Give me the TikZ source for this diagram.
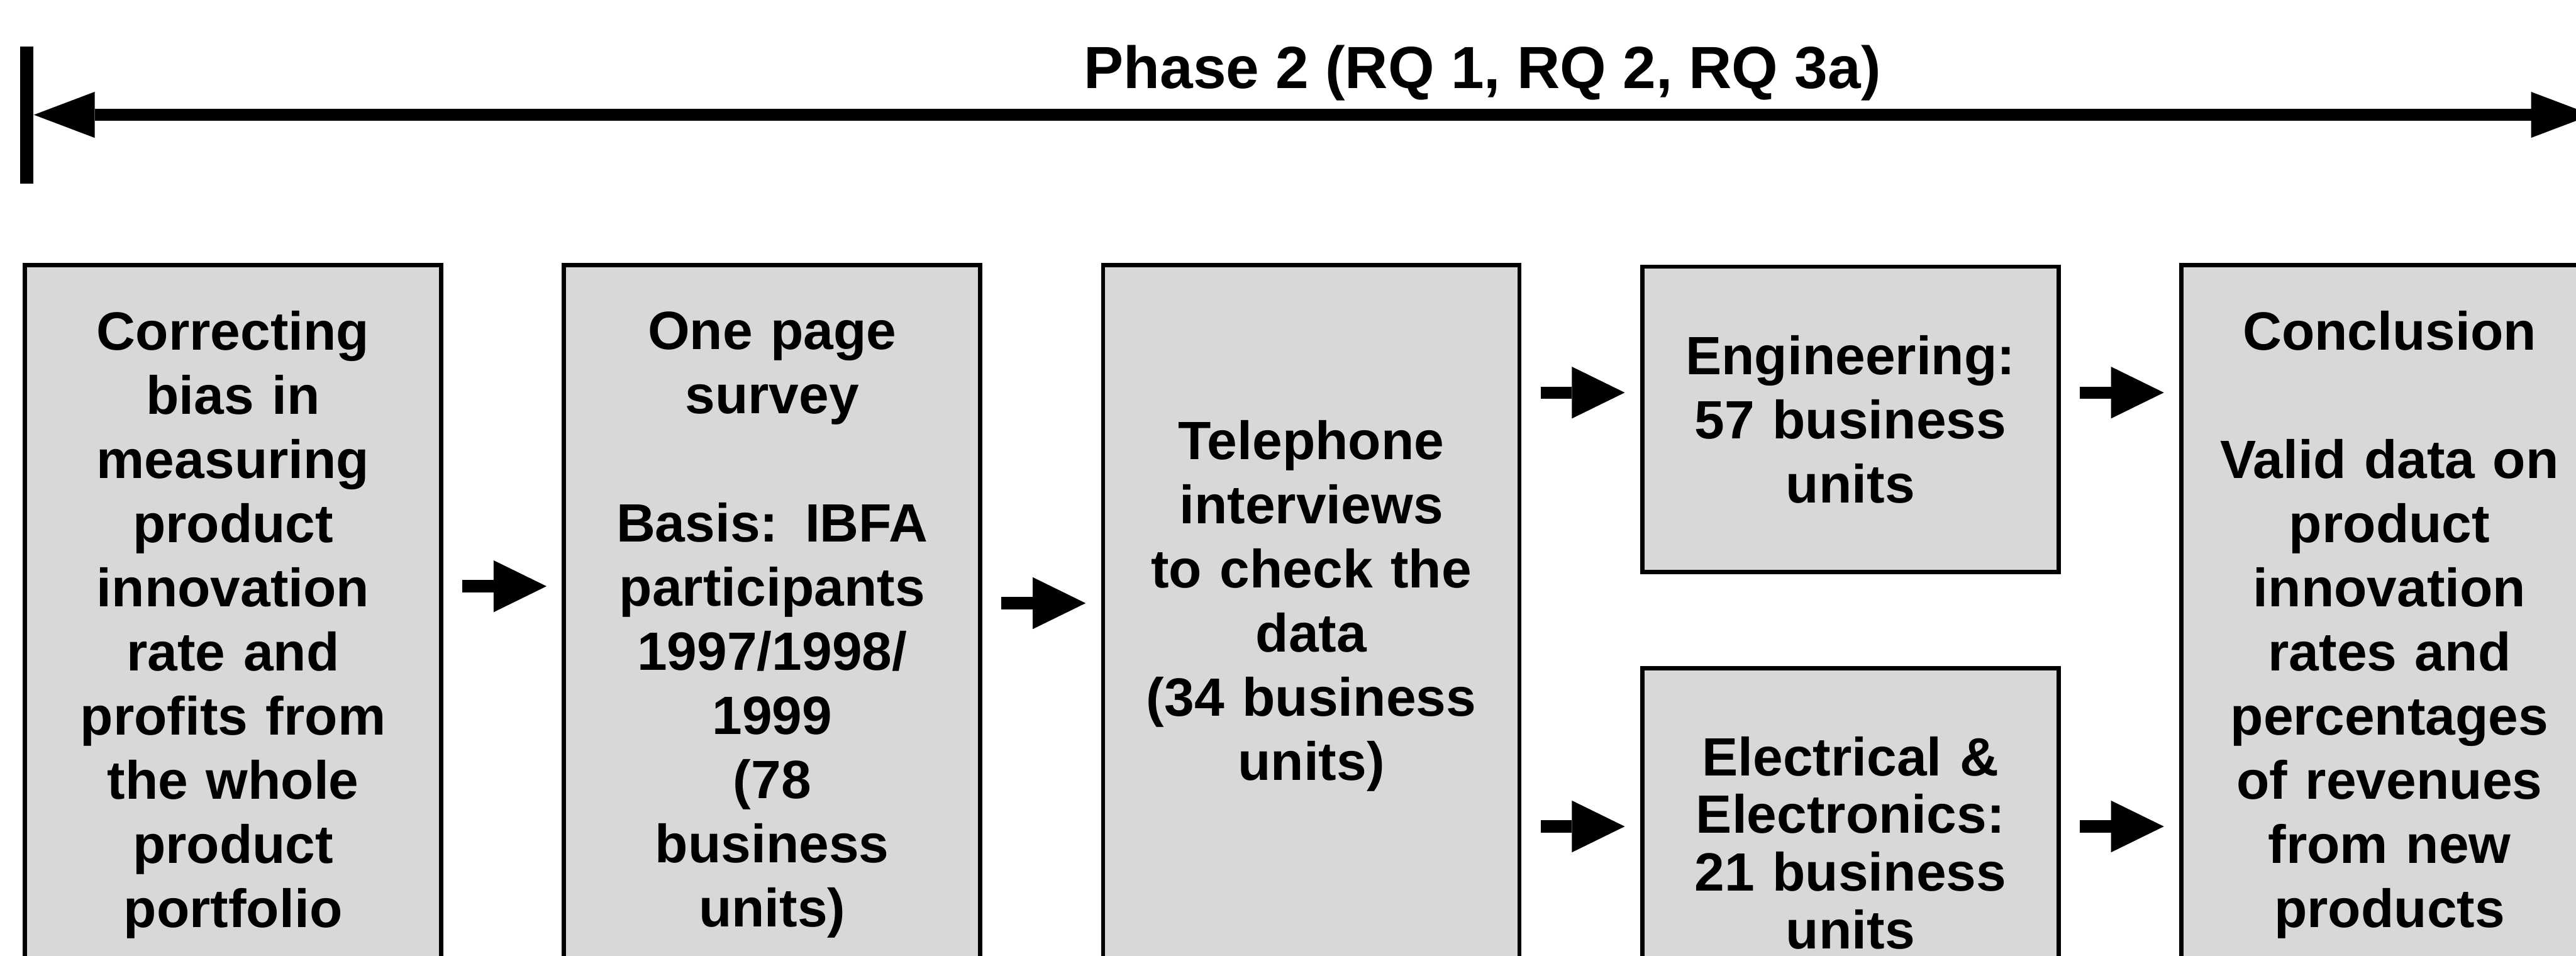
\documentclass[tikz,border=0pt]{standalone}
\usepackage{fontspec}
\setmainfont{Liberation Sans}
\usetikzlibrary{arrows.meta,positioning}
\definecolor{boxgray}{RGB}{216,216,216}

\begin{document}
\begin{tikzpicture}[
    stage/.style={draw,line width=0.08cm,fill=boxgray,minimum width=7.87cm,
      text width=7.6cm,align=center,inner sep=0pt,anchor=north west,
      font=\fontsize{29}{34.5}\selectfont\bfseries},
    flow/.style={line width=0.23cm,-{Triangle[length=1.0cm,width=0.98cm,line width=0pt]},
      shorten <=0.36cm,shorten >=0.29cm},
    span/.style={line width=0.23cm,
      {Triangle[length=1.15cm,width=0.87cm,line width=0pt]}-{Triangle[length=1.15cm,width=0.87cm,line width=0pt]}},
  ]
  \useasboundingbox (0,0) rectangle (48.69,-18.06);
  \clip (0,0) rectangle (48.69,-18.06);

  % phase bar
  \draw[line width=0.25cm] (0.51,-0.88) -- (0.51,-3.47);
  \coordinate (pl) at (0.64,-2.17);
  \coordinate (pr) at (48.99,-2.17);
  \draw[span] (pl) -- (pr);
  \node[anchor=base,font=\fontsize{32}{38}\selectfont\bfseries] (phase) at (28.02,-1.67)
    {Phase 2 (RQ 1, RQ 2, RQ 3a)};

  % stages
  \node[stage,minimum height=13.6cm] (corr) at (0.43,-4.97)
    {Correcting\\bias in\\measuring\\product\\innovation\\rate and\\profits from\\the whole\\product\\portfolio};
  \node[stage,minimum height=13.6cm,right=2.24cm of corr.north east,anchor=north west] (survey)
    {One page\\survey\\[34.5pt]Basis: IBFA\\participants\\1997/1998/\\1999\\(78\\business\\units)};
  \node[stage,minimum height=13.6cm,right=2.24cm of survey.north east,anchor=north west] (phone)
    {Telephone\\interviews\\to check the\\data\\(34 business\\units)\\[-0.28cm]\mbox{}};
  \node[stage,minimum height=5.77cm,right=2.24cm of phone.north east,anchor=north west,yshift=-0.03cm] (eng)
    {Engineering:\\57 business\\units};
  \node[stage,minimum height=6.6cm,below=1.74cm of eng.south west,anchor=north west,
    font=\fontsize{29}{31}\selectfont\bfseries] (elec)
    {Electrical \&\\Electronics:\\21 business\\units};
  \node[stage,minimum height=13.6cm,right=2.24cm of eng.north east,anchor=north west,yshift=0.03cm] (concl)
    {Conclusion\\[34.5pt]Valid data on\\product\\innovation\\rates and\\percentages\\of revenues\\from new\\products};

  % arrows
  \coordinate (lvA) at (0,-11.08);
  \coordinate (lvB) at (0,-11.40);
  \coordinate (lvC) at (0,-7.42);
  \coordinate (lvD) at (0,-15.62);
  \draw[flow] (corr.east |- lvA) -- (survey.west |- lvA);
  \draw[flow] (survey.east |- lvB) -- (phone.west |- lvB);
  \draw[flow] (phone.east |- lvC) -- (eng.west |- lvC);
  \draw[flow] (phone.east |- lvD) -- (elec.west |- lvD);
  \draw[flow] (eng.east |- lvC) -- (concl.west |- lvC);
  \draw[flow] (elec.east |- lvD) -- (concl.west |- lvD);
\end{tikzpicture}
\end{document}
